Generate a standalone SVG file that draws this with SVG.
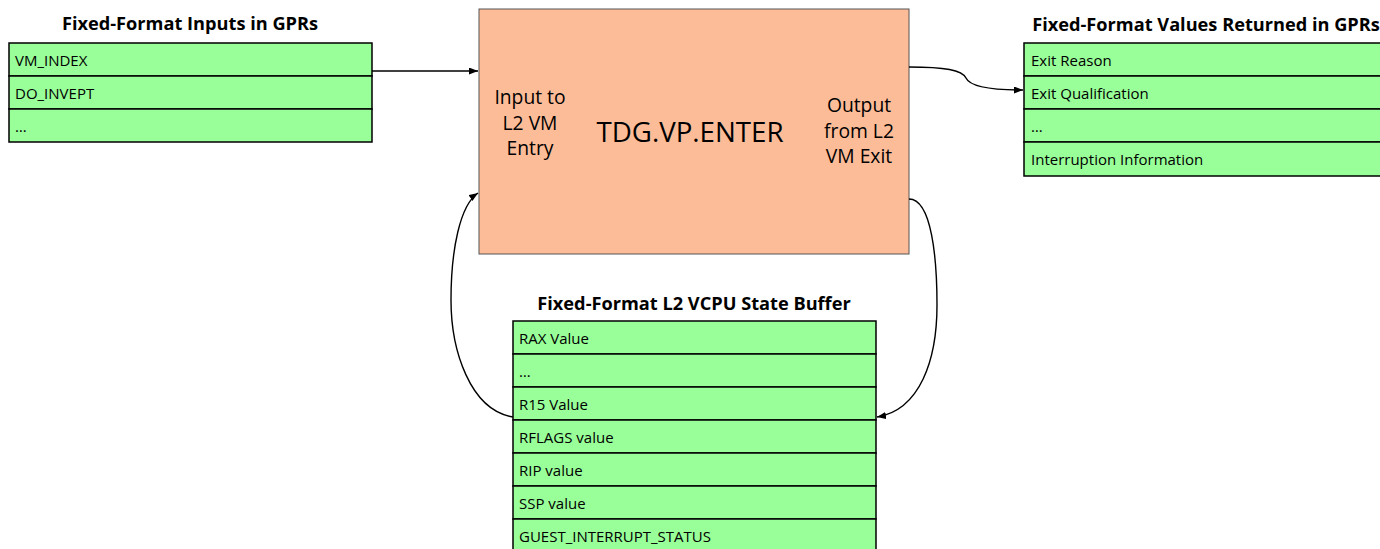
<svg xmlns="http://www.w3.org/2000/svg" width="1380" height="549" viewBox="0 0 1380 549">
<defs>
<marker id="arr" viewBox="0 0 9 7" refX="9" refY="3.5" markerWidth="9" markerHeight="7" markerUnits="userSpaceOnUse" orient="auto"><path d="M0,0 L9,3.5 L0,7 z" fill="#000"/></marker>
<style>
.row{fill:#99FF99;stroke:#000;stroke-width:1.5}
.rt{font-family:"Open Sans","Liberation Sans",sans-serif;font-size:15px;fill:#000}
.ttl{font-family:"Open Sans","Liberation Sans",sans-serif;font-size:18.2px;font-weight:bold;fill:#000;text-anchor:middle}
.box{fill:#FDBC98;stroke:#555;stroke-width:1}
.side{font-family:"Open Sans","Liberation Sans",sans-serif;font-size:19.3px;fill:#000;text-anchor:middle}
.big{font-family:"Open Sans","Liberation Sans",sans-serif;font-size:27.7px;fill:#000;text-anchor:middle}
.con{fill:none;stroke:#000;stroke-width:1.4;marker-end:url(#arr)}
</style>
</defs>
<rect width="1380" height="549" fill="#fff"/>
<g id="inputs">
<text class="ttl" x="190" y="30">Fixed-Format Inputs in GPRs</text>
<rect class="row" x="9" y="43" width="363" height="33"/>
<rect class="row" x="9" y="76" width="363" height="33"/>
<rect class="row" x="9" y="109" width="363" height="33"/>
<text class="rt" x="15" y="66">VM_INDEX</text>
<text class="rt" x="15" y="99">DO_INVEPT</text>
<text class="rt" x="15" y="132">…</text>
</g>
<g id="enter">
<rect class="box" x="479" y="9" width="430" height="245"/>
<text class="big" x="690" y="142">TDG.VP.ENTER</text>
<text class="side" x="530" y="104">Input to</text>
<text class="side" x="530" y="129.5">L2 VM</text>
<text class="side" x="530" y="155">Entry</text>
<text class="side" x="859" y="112">Output</text>
<text class="side" x="859" y="137.5">from L2</text>
<text class="side" x="859" y="163">VM Exit</text>
</g>
<g id="outputs">
<text class="ttl" x="1206" y="31">Fixed-Format Values Returned in GPRs</text>
<rect class="row" x="1024" y="43" width="366" height="33"/>
<rect class="row" x="1024" y="76" width="366" height="33"/>
<rect class="row" x="1024" y="109" width="366" height="33"/>
<rect class="row" x="1024" y="142" width="366" height="34"/>
<text class="rt" x="1031" y="66">Exit Reason</text>
<text class="rt" x="1031" y="99">Exit Qualification</text>
<text class="rt" x="1031" y="132">…</text>
<text class="rt" x="1031" y="165">Interruption Information</text>
</g>
<g id="statebuf">
<text class="ttl" x="694" y="310">Fixed-Format L2 VCPU State Buffer</text>
<rect class="row" x="513" y="321" width="363" height="33"/>
<rect class="row" x="513" y="354" width="363" height="33"/>
<rect class="row" x="513" y="387" width="363" height="33"/>
<rect class="row" x="513" y="420" width="363" height="33"/>
<rect class="row" x="513" y="453" width="363" height="33"/>
<rect class="row" x="513" y="486" width="363" height="33"/>
<rect class="row" x="513" y="519" width="363" height="33"/>
<text class="rt" x="519" y="344">RAX Value</text>
<text class="rt" x="519" y="377">…</text>
<text class="rt" x="519" y="410">R15 Value</text>
<text class="rt" x="519" y="443">RFLAGS value</text>
<text class="rt" x="519" y="476">RIP value</text>
<text class="rt" x="519" y="509">SSP value</text>
<text class="rt" x="519" y="542">GUEST_INTERRUPT_STATUS</text>
</g>
<g id="connectors">
<path class="con" d="M372,71 L478,71"/>
<path class="con" d="M909,67 C945,67 962,70 966,78 C970,87 995,90 1023,90"/>
<path class="con" d="M909,199 C932,199 937,260 937,305 C937,360 920,410 877,417"/>
<path class="con" d="M513,417 C470,410 451,350 451,300 C451,250 460,205 478,193"/>
</g>
</svg>
